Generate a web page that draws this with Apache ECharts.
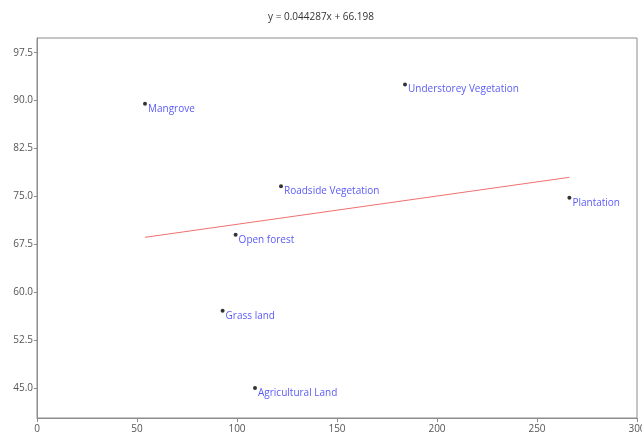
<!DOCTYPE html>
<html>
<head>
<meta charset="utf-8">
<script src="https://cdn.jsdelivr.net/npm/echarts@6/dist/echarts.min.js"></script>
<style>
  html, body { margin: 0; padding: 0; background: #fff; }
  #chart { width: 642px; height: 441px; }
</style>
</head>
<body>
<div id="chart"></div>
<script>
// Land-use categories and their measured (x, y) values
const categories = ['Mangrove', 'Understorey Vegetation', 'Roadside Vegetation', 'Plantation', 'Open forest', 'Grass land', 'Agricultural Land'];
const xValues = [54, 184, 122, 266.2, 99.3, 92.8, 109];
const yValues = [89.5, 92.5, 76.6, 74.8, 69, 57.1, 45];

// Least-squares fit shown in the title
const slope = 0.044287;
const intercept = 66.198;

// Axis tick values
const xTicks = [0, 50, 100, 150, 200, 250, 300];
const yTicks = [45, 52.5, 60, 67.5, 75, 82.5, 90, 97.5];

const points = categories.map((name, i) => ({ name: name, value: [xValues[i], yValues[i]] }));
const xLo = Math.min(...xValues);
const xHi = Math.max(...xValues);
const fitLine = [[xLo, slope * xLo + intercept], [xHi, slope * xHi + intercept]];

const axisGray = '#8c8c8c';
const labelGray = '#555';
const font = '"Open Sans", "Noto Sans", sans-serif';

const chart = echarts.init(document.getElementById('chart'), null, { renderer: 'canvas' });
chart.setOption({
  animation: false,
  backgroundColor: '#fff',
  title: {
    text: 'y = ' + slope + 'x + ' + intercept,
    left: 'center',
    top: 7,
    textStyle: { fontSize: 10, fontWeight: 'normal', color: '#333', fontFamily: font }
  },
  grid: {
    left: 37, right: 5, top: 38, bottom: 23,
    outerBoundsMode: 'none',
    containLabel: false,
    show: true, borderColor: axisGray, borderWidth: 1, backgroundColor: 'transparent'
  },
  xAxis: {
    type: 'value',
    min: 0, max: 300, interval: 50,
    axisLine: { show: true, lineStyle: { color: axisGray } },
    axisTick: { show: true, length: 4, lineStyle: { color: axisGray }, customValues: xTicks },
    axisLabel: { color: labelGray, fontSize: 10, fontFamily: font, margin: 6, customValues: xTicks },
    splitLine: { show: false }
  },
  yAxis: {
    type: 'value',
    min: 40.3, max: 99.8,
    axisLine: { show: true, lineStyle: { color: axisGray } },
    axisTick: { show: true, length: 3, lineStyle: { color: axisGray }, customValues: yTicks },
    axisLabel: {
      color: labelGray, fontSize: 10, fontFamily: font, margin: 4,
      customValues: yTicks,
      formatter: v => v.toFixed(1)
    },
    splitLine: { show: false }
  },
  series: [
    {
      type: 'line',
      data: fitLine,
      symbol: 'none',
      lineStyle: { color: '#f07070', width: 1 },
      silent: true,
      z: 1
    },
    {
      type: 'scatter',
      data: points,
      symbol: 'circle',
      symbolSize: 4,
      itemStyle: { color: '#000' },
      label: {
        show: true,
        position: 'right',
        distance: 1,
        offset: [0, 5],
        formatter: p => p.name,
        color: '#3030f5',
        fontSize: 10,
        fontFamily: font
      },
      z: 2
    }
  ]
});
</script>
</body>
</html>
